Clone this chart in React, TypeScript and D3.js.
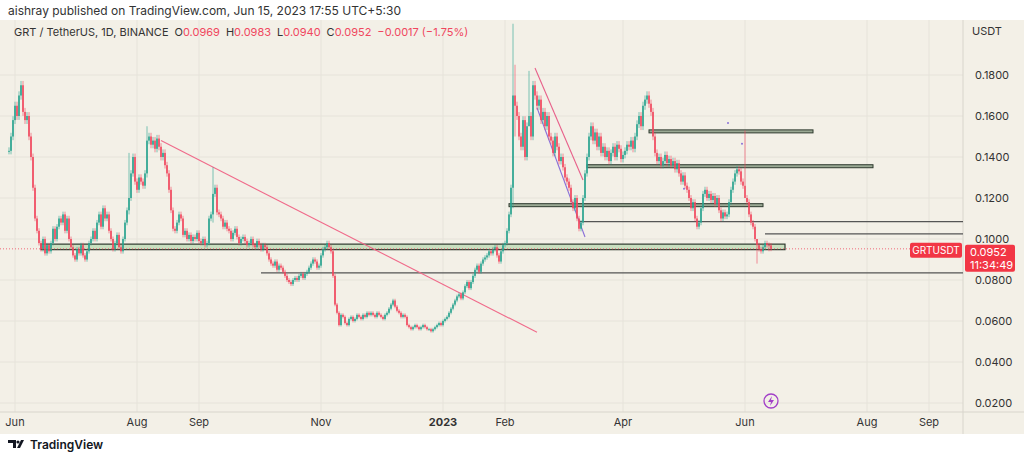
import React from 'react';
import * as d3 from 'd3';

// daily closes, starting 2022-05-29
const closes = [
  0.143, 0.150, 0.158, 0.165, 0.160, 0.170, 0.175, 0.162, 0.158, 0.160,
  0.150, 0.140, 0.125, 0.110, 0.104, 0.098, 0.095, 0.100, 0.093, 0.097,
  0.094, 0.098, 0.105, 0.100, 0.106, 0.110, 0.108, 0.112, 0.104, 0.110,
  0.100, 0.096, 0.092, 0.090, 0.095, 0.093, 0.097, 0.092, 0.090, 0.094,
  0.098, 0.100, 0.104, 0.100, 0.108, 0.112, 0.106, 0.115, 0.110, 0.112,
  0.104, 0.100, 0.095, 0.098, 0.102, 0.096, 0.094, 0.100, 0.108, 0.114,
  0.120, 0.132, 0.140, 0.128, 0.124, 0.130, 0.128, 0.126, 0.132, 0.148,
  0.150, 0.146, 0.148, 0.144, 0.149, 0.145, 0.140, 0.142, 0.136, 0.132,
  0.124, 0.114, 0.105, 0.104, 0.108, 0.112, 0.110, 0.102, 0.104, 0.100,
  0.102, 0.099, 0.101, 0.100, 0.103, 0.099, 0.098, 0.100, 0.097, 0.098,
  0.110, 0.112, 0.122, 0.125, 0.113, 0.112, 0.110, 0.106, 0.108, 0.105,
  0.104, 0.100, 0.103, 0.105, 0.101, 0.098, 0.100, 0.101, 0.099, 0.097,
  0.098, 0.100, 0.097, 0.096, 0.099, 0.097, 0.095, 0.097, 0.096, 0.093,
  0.090, 0.088, 0.087, 0.089, 0.085, 0.087, 0.086, 0.084, 0.082, 0.080,
  0.079, 0.078, 0.080, 0.081, 0.080, 0.082, 0.083, 0.081, 0.083, 0.084,
  0.086, 0.088, 0.090, 0.089, 0.086, 0.087, 0.092, 0.095, 0.096, 0.098,
  0.096, 0.094, 0.082, 0.068, 0.064, 0.058, 0.063, 0.062, 0.059, 0.058,
  0.061, 0.062, 0.060, 0.061, 0.063, 0.062, 0.061, 0.063, 0.062, 0.064,
  0.063, 0.064, 0.063, 0.062, 0.064, 0.063, 0.062, 0.061, 0.063, 0.064,
  0.066, 0.068, 0.070, 0.067, 0.065, 0.064, 0.062, 0.063, 0.062, 0.058,
  0.057, 0.056, 0.057, 0.058, 0.057, 0.056, 0.057, 0.058, 0.057, 0.056,
  0.056, 0.055, 0.056, 0.057, 0.058, 0.059, 0.058, 0.060, 0.061, 0.062,
  0.064, 0.066, 0.068, 0.070, 0.072, 0.073, 0.071, 0.074, 0.077, 0.079,
  0.076, 0.079, 0.082, 0.085, 0.087, 0.084, 0.088, 0.090, 0.091, 0.092,
  0.094, 0.093, 0.095, 0.096, 0.092, 0.089, 0.094, 0.097, 0.098, 0.104,
  0.112, 0.125, 0.170, 0.165, 0.160, 0.150, 0.145, 0.158, 0.140, 0.155,
  0.160, 0.150, 0.175, 0.170, 0.165, 0.168, 0.158, 0.162, 0.155, 0.160,
  0.150, 0.148, 0.142, 0.150, 0.145, 0.138, 0.140, 0.135, 0.130, 0.128,
  0.125, 0.118, 0.115, 0.120, 0.110, 0.105, 0.108, 0.120, 0.132, 0.140,
  0.150, 0.155, 0.148, 0.152, 0.145, 0.150, 0.142, 0.145, 0.140, 0.143,
  0.138, 0.142, 0.145, 0.140, 0.146, 0.144, 0.139, 0.141, 0.143, 0.146,
  0.145, 0.148, 0.144, 0.150, 0.156, 0.160, 0.155, 0.165, 0.168, 0.170,
  0.166, 0.162, 0.150, 0.142, 0.138, 0.140, 0.136, 0.138, 0.141, 0.137,
  0.139, 0.136, 0.138, 0.134, 0.137, 0.132, 0.128, 0.131, 0.126, 0.124,
  0.120, 0.115, 0.118, 0.110, 0.106, 0.108, 0.115, 0.122, 0.124, 0.120,
  0.122, 0.119, 0.121, 0.117, 0.120, 0.114, 0.110, 0.113, 0.111, 0.112,
  0.118, 0.124, 0.128, 0.132, 0.134, 0.133, 0.128, 0.126, 0.120, 0.118,
  0.112, 0.108, 0.106, 0.100, 0.097, 0.095, 0.094, 0.096, 0.098, 0.097,
  0.0969, 0.0952,
];
const startDate = new Date(2022, 4, 29);
// wick overrides: [day index, high, low]
const wickSpikes: [number, number, number][] = [
  [252, 0.205, 0.115], [253, 0.185, 0.150], [60, 0.142, 0.112], [69, 0.155, 0.130],
  [102, 0.135, 0.108], [368, 0.153, 0.126], [374, 0.1, 0.088], [380, 0.0983, 0.094],
  [260, 0.182, 0.16],
];
// horizontal levels: [price, from, to, kind]
const levels: [number, string, string, string][] = [
  [0.0835, '2022-10-02', '2023-10-30', 'line'],
  [0.1165, '2023-02-03', '2023-06-10', 'bar'],
  [0.1085, '2023-03-10', '2023-10-30', 'line'],
  [0.1025, '2023-06-11', '2023-10-30', 'line'],
  [0.1355, '2023-03-14', '2023-08-04', 'bar'],
  [0.1525, '2023-04-14', '2023-07-05', 'bar'],
];
const zone: [number, number, string, string] = [0.0948, 0.0975, '2022-06-14', '2023-06-21'];
const trendLines: [string, number, string, number, string][] = [
  ['2022-08-13', 0.148, '2023-02-17', 0.0545, '#f06a8a'],
  ['2023-02-16', 0.1834, '2023-03-12', 0.1288, '#e8608a'],
  ['2023-02-17', 0.164, '2023-03-13', 0.101, '#8a70d8'],
];
const yTicks = [0.02, 0.04, 0.06, 0.08, 0.1, 0.12, 0.14, 0.16, 0.18];
const xTicks: [string, string][] = [
  ['2022-06-01', 'Jun'], ['2022-08-01', 'Aug'], ['2022-09-01', 'Sep'], ['2022-11-01', 'Nov'],
  ['2023-01-01', '2023'], ['2023-02-01', 'Feb'], ['2023-04-01', 'Apr'], ['2023-06-01', 'Jun'],
  ['2023-08-01', 'Aug'], ['2023-09-01', 'Sep'],
];

const W = 1024, H = 458;
const parse = (s: string) => { const [y, m, d] = s.split('-').map(Number); return new Date(y, m - 1, d); };

export default function App() {
  const x = d3.scaleTime().domain([new Date(2022, 5, 1), new Date(2023, 5, 1)]).range([15, 745]);
  const y = d3.scaleLinear().domain([0.02, 0.18]).range([403, 75]);
  const candles = closes.map((c, i) => {
    const o = i === 0 ? c : closes[i - 1];
    let hi = Math.max(o, c) * 1.012, lo = Math.min(o, c) * 0.988;
    const sp = wickSpikes.find(s => s[0] === i);
    if (sp) { hi = sp[1]; lo = sp[2]; }
    return { date: d3.timeDay.offset(startDate, i), o, c, hi, lo };
  });
  const up = '#2aa48f', down = '#f0475e';
  const last = closes[closes.length - 1];
  const plotR = 963, top = 20, bottom = 412;
  const ly = y(last);
  return (
    <svg width={W} height={H} style={{ position: 'absolute', left: 0, top: 0, fontFamily: 'Inter, "Noto Sans", sans-serif' }}>
      <rect width={W} height={H} fill="#fff" />
      <rect x={0} y={top} width={W} height={bottom - top + 22} fill="#f3f0e7" />
      <defs><clipPath id="plot"><rect x={0} y={top} width={plotR} height={bottom - top} /></clipPath></defs>
      {yTicks.map(t => <line key={t} x1={0} x2={plotR} y1={y(t)} y2={y(t)} stroke="#e6e3da" />)}
      {xTicks.map(([d]) => <line key={d} x1={x(parse(d))} x2={x(parse(d))} y1={top} y2={bottom} stroke="#e6e3da" />)}
      <line x1={plotR} x2={plotR} y1={top} y2={bottom + 22} stroke="#d8d5cc" />
      <line x1={0} x2={W} y1={bottom} y2={bottom} stroke="#d8d5cc" />
      <g clipPath="url(#plot)">
        <rect x={x(parse(zone[2]))} width={x(parse(zone[3])) - x(parse(zone[2]))} y={y(zone[1])} height={y(zone[0]) - y(zone[1])}
          fill="#c9dfbf" stroke="#2f3a2f" strokeWidth={1.2} />
        {levels.map(([p, a, b, k], i) => k === 'bar'
          ? <rect key={i} x={x(parse(a))} width={x(parse(b)) - x(parse(a))} y={y(p) - 1.5} height={3} fill="#9aa994" stroke="#2f3a2f" strokeWidth={1} />
          : <line key={i} x1={x(parse(a))} x2={x(parse(b))} y1={y(p)} y2={y(p)} stroke="#555" strokeWidth={1.2} />)}
        {trendLines.map(([a, pa, b, pb, col], i) =>
          <line key={i} x1={x(parse(a))} y1={y(pa)} x2={x(parse(b))} y2={y(pb)} stroke={col} strokeWidth={1.1} />)}
        {candles.map((k, i) => {
          const cx = x(k.date), col = k.c >= k.o ? up : down;
          const y0 = y(Math.max(k.o, k.c)), y1 = y(Math.min(k.o, k.c));
          return <g key={i}>
            <line x1={cx} x2={cx} y1={y(k.hi)} y2={y(k.lo)} stroke={col} strokeOpacity={0.6} />
            <rect x={cx - 0.8} width={1.6} y={y0} height={Math.max(1, y1 - y0)} fill={col} />
          </g>;
        })}
        <line x1={0} x2={plotR} y1={ly} y2={ly} stroke={down} strokeDasharray="1 2" strokeWidth={0.8} />
        {[[728, 0.1566], [742, 0.1465], [684, 0.1245]].map(([px, p], i) =>
          <circle key={i} cx={px} cy={y(p)} r={1} fill="#8a70d8" />)}
      </g>
      {yTicks.map(t => <text key={t} x={975} y={y(t) + 4} fontSize={11} fill="#333">{t.toFixed(4)}</text>)}
      <text x={972} y={35} fontSize={11} fill="#333">USDT</text>
      <rect x={910} y={ly - 6} width={52} height={15} rx={2} fill="#f23645" />
      <text x={936} y={ly + 5} fontSize={10} fill="#fff" textAnchor="middle">GRTUSDT</text>
      <rect x={965} y={ly - 4} width={50} height={27} rx={2} fill="#f23645" />
      <text x={970} y={ly + 7} fontSize={11} fill="#fff">{last.toFixed(4)}</text>
      <text x={970} y={ly + 20} fontSize={11} fill="#fff">11:34:49</text>
      {xTicks.map(([d, l]) => <text key={d} x={x(parse(d))} y={426} fontSize={11} textAnchor="middle"
        fill="#333" fontWeight={l === '2023' ? 700 : 400}>{l}</text>)}
      <circle cx={771} cy={401} r={7} fill="none" stroke="#a23fc8" strokeWidth={1.3} />
      <path d="M772,396 L768,402 L771,402 L770,406 L774,400 L771,400 Z" fill="#a23fc8" />
      <text x={8} y={15} fontSize={12} fill="#333">aishray published on TradingView.com, Jun 15, 2023 17:55 UTC+5:30</text>
      <text x={14} y={36} fontSize={11} fill="#333">GRT / TetherUS, 1D, BINANCE
        <tspan dx={6}>O</tspan><tspan fill={down}>0.0969</tspan>
        <tspan dx={6}>H</tspan><tspan fill={down}>0.0983</tspan>
        <tspan dx={6}>L</tspan><tspan fill={down}>0.0940</tspan>
        <tspan dx={6}>C</tspan><tspan fill={down}>0.0952</tspan>
        <tspan dx={6} fill={down}>−0.0017 (−1.75%)</tspan></text>
      <g transform="translate(8,440)">
        <path d="M0,0 H8 V8 H5 V3 H0 Z M9,8 L13,0 H16 L12,8 Z" fill="#131722" />
        <circle cx={10} cy={2} r={1.6} fill="#131722" />
        <text x={22} y={9} fontSize={12} fontWeight={600} fill="#131722">TradingView</text>
      </g>
    </svg>
  );
}
